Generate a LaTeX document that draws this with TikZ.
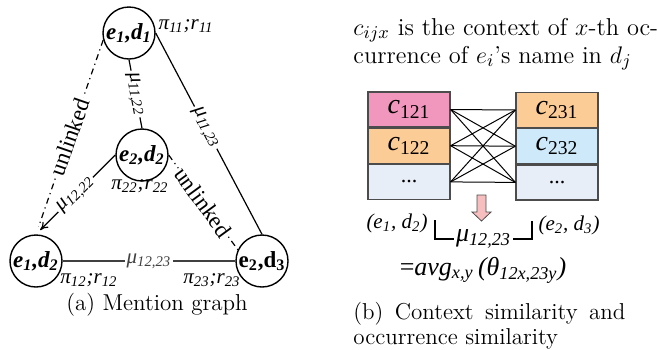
\documentclass[tikz,border=0pt]{standalone}
\usepackage{fontspec}
\newfontfamily\tnr{Liberation Serif}
\usetikzlibrary{positioning,arrows.meta}
\newcommand{\sbs}[1]{\textsubscript{#1}}
\definecolor{pinkbox}{RGB}{241,151,190}
\definecolor{orangebox}{RGB}{252,204,150}
\definecolor{bluebox}{RGB}{206,234,250}
\definecolor{greybox}{RGB}{232,238,248}
\definecolor{arrowpink}{RGB}{246,190,190}
\tikzset{
  mention/.style={draw, circle, line width=0.7pt, minimum size=26pt, inner sep=0pt, font=\tnr\bfseries\itshape\fontsize{11.5}{13}\selectfont},
  linkedge/.style={line width=0.6pt},
  unlinkedge/.style={line width=0.6pt, dash dot},
  elabel/.style={sloped, fill=white, inner sep=1pt, font=\tnr\itshape\fontsize{10.5}{12}\selectfont},
  ulabel/.style={sloped, fill=white, inner sep=1pt, font=\tnr\fontsize{11.5}{13}\selectfont},
  prlabel/.style={font=\tnr\itshape\fontsize{10.5}{12}\selectfont},
  ctxbox/.style={draw=black!70, line width=0.6pt, minimum width=41pt, minimum height=17.5pt, inner sep=0pt, font=\tnr\fontsize{14}{16}\selectfont},
  dotbox/.style={ctxbox, fill=greybox, font=\tnr\fontsize{11}{13}\selectfont},
  pairlabel/.style={font=\tnr\itshape\fontsize{10.5}{12}\selectfont},
  caption/.style={font=\fontsize{11.5}{12.5}\selectfont}
}

\begin{document}
\begin{tikzpicture}[x=0.5pt, y=-0.5pt, >={To[length=4pt,width=4pt]}]
  \useasboundingbox (0,0) rectangle (657,349);
  % (a) mention graph
  \node[mention] (e11) at (129,33) {e\sbs{1},d\sbs{1}};
  \node[mention] (e22) at (142,155) {e\sbs{2},d\sbs{2}};
  \node[mention] (e12) at (36,261) {e\sbs{1},d\sbs{2}};
  \node[mention, font=\tnr\bfseries\fontsize{11.5}{13}\selectfont] (e23) at (262,261) {e\sbs{2},d\sbs{3}};
  \draw[linkedge] (e11.south) -- node[elabel]{μ\sbs{11,22}} (e22.north);
  \draw[linkedge] (e11.east) -- node[elabel, pos=0.47]{μ\sbs{11,23}} (e23.north);
  \draw[unlinkedge, shorten >=4pt] (e11.195) -- node[ulabel]{unlinked} (e12.north);
  \draw[linkedge, ->, shorten >=3pt] (e22.west) -- node[elabel]{μ\sbs{12,22}} (e12.north);
  \draw[unlinkedge] (e22.east) -- node[ulabel]{unlinked} (e23.155);
  \draw[line width=0.9pt, black!75] (e12.east) -- node[elabel]{μ\sbs{12,23}} (e23.west);
  \node[prlabel] (p11) at (186,26) {π\sbs{11};r\sbs{11}};
  \node[prlabel] (p22) at (140,186) {π\sbs{22};r\sbs{22}};
  \node[prlabel] (p12) at (89,280) {π\sbs{12};r\sbs{12}};
  \node[prlabel] (p23) at (212,280) {π\sbs{23};r\sbs{23}};
  \node[caption, anchor=base] (capa) at (157,310) {(a) Mention graph};
  % (b) context similarity
  \node[anchor=base west, align=left, inner sep=0pt, font=\fontsize{12.2}{14}\selectfont] (note) at (353,63)
    {$c_{ijx}$ is the context of $x$-th oc-\\currence of $e_i$'s name in $d_j$};
  \node[ctxbox, fill=pinkbox] (c121) at (409,109.5) {\itshape c\sbs{\upshape 121}};
  \node[ctxbox, fill=orangebox, below=0pt of c121] (c122) {\itshape c\sbs{\upshape 122}};
  \node[dotbox, below=0pt of c122] (c12x) {...};
  \node[ctxbox, fill=orangebox] (c231) at (557,110) {\itshape c\sbs{\upshape 231}};
  \node[ctxbox, fill=bluebox, below=0pt of c231] (c232) {\itshape c\sbs{\upshape 232}};
  \node[dotbox, below=0pt of c232] (c23x) {...};
  \foreach \a in {c121,c122,c12x}
    \foreach \b in {c231,c232,c23x}
      \draw[line width=0.5pt] (\a.east) -- (\b.west);
  \draw[fill=arrowpink, draw=black!70, line width=0.4pt] (477,195) -- (486,195) -- (486,212) -- (491,212)
    -- (481.5,221) -- (472,212) -- (477,212) -- cycle;
  \node[pairlabel] (pl) at (397,223) {(e\sbs{1}, d\sbs{2})};
  \node[pairlabel] (pr) at (569,225) {(e\sbs{2}, d\sbs{3})};
  \coordinate (bl) at (435,220);
  \coordinate (bb) at (532,239);
  \coordinate (br) at (532,221);
  \draw[line width=0.6pt] (bl) |- node[pos=0.75, fill=white, inner sep=1pt, font=\tnr\itshape\fontsize{13}{15}\selectfont]{μ\sbs{12,23}} (bb) -- (br);
  \node[font=\tnr\itshape\fontsize{13}{15}\selectfont] (avg) at (483,270) {{\upshape =}avg\sbs{x,y}\,(θ\sbs{12x,23y})};
  \node[caption, anchor=base west, text width=136pt, align=justify, inner sep=0pt] (capb) at (353,319)
    {(b) Context similarity and occurrence similarity};
\end{tikzpicture}
\end{document}
